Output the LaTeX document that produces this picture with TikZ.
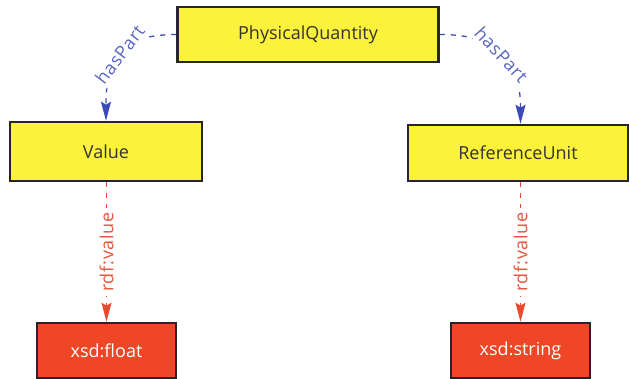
\documentclass[tikz,border=0pt]{standalone}
\usepackage{fontspec}
\setmainfont{Open Sans}
\newfontfamily\edgefont[LetterSpace=4]{Open Sans}
\usetikzlibrary{arrows.meta}
\definecolor{classfill}{HTML}{FCF23C}
\definecolor{typefill}{HTML}{EE4626}
\definecolor{boxline}{HTML}{262626}
\definecolor{partline}{HTML}{3C4AB8}
\definecolor{partlabel}{HTML}{5A66BC}
\definecolor{valline}{HTML}{EA4A2E}
\definecolor{vallabel}{HTML}{E8553A}
\tikzset{
  classbox/.style={draw=boxline, line width=2.6pt, fill=classfill,
    text=black!80, inner sep=0pt, font=\fontsize{18}{20}\selectfont},
  typebox/.style={draw=boxline, line width=2.6pt, fill=typefill,
    text=white, inner sep=0pt, font=\fontsize{18}{20}\selectfont},
  partedge/.style={draw=partline, line width=1.3pt, dash pattern=on 5pt off 6pt,
    -{Stealth[length=19pt, width=10pt, inset=3pt]}},
  valedge/.style={draw=valline, line width=1.3pt, dash pattern=on 5pt off 6pt,
    -{Stealth[length=19pt, width=10pt, inset=3pt]}},
  partlbl/.style={fill=white, text=partlabel, inner sep=3pt,
    font=\edgefont\fontsize{18}{20}\selectfont},
  vallbl/.style={fill=white, text=vallabel, inner sep=4pt,
    font=\edgefont\fontsize{18}{20}\selectfont}
}
\begin{document}
\begin{tikzpicture}[x=1pt, y=-1pt]
  \useasboundingbox[fill=white] (0,0) rectangle (629,379);

  % classes
  \node[classbox, minimum width=261pt, minimum height=55pt] (pq) at (308,34.5) {PhysicalQuantity};
  \node[classbox, minimum width=192pt, minimum height=59pt] (val) at (106,151.5) {Value};
  \node[classbox, minimum width=220pt, minimum height=56pt] (ru) at (518,153) {ReferenceUnit};

  % datatypes
  \node[typebox, minimum width=139pt, minimum height=55pt] (flt) at (106.5,350.5) {xsd:float};
  \node[typebox, minimum width=139pt, minimum height=55pt] (str) at (520.5,350.5) {xsd:string};

  % hasPart links
  \draw[partedge] (pq.west) .. controls +(-57,0) and +(0,-62) .. (val.north)
    node[partlbl, midway, sloped] {hasPart};
  \draw[partedge] (pq.east) .. controls +(57,0) and +(0,-65) .. (ru.north -| str.north)
    node[partlbl, midway, sloped] {hasPart};

  % rdf:value links
  \draw[valedge] (val.south -| flt.north) -- (flt.north)
    node[vallbl, midway, rotate=90] {rdf:value};
  \draw[valedge] (ru.south -| str.north) -- (str.north)
    node[vallbl, midway, rotate=90] {rdf:value};
\end{tikzpicture}
\end{document}
